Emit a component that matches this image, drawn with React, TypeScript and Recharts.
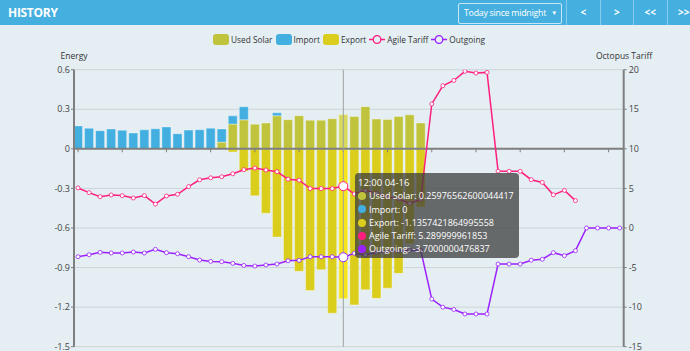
import React from 'react';
import {
  ComposedChart,
  Bar,
  Line,
  XAxis,
  YAxis,
  CartesianGrid,
  Tooltip,
  ReferenceLine,
  Cell,
} from 'recharts';

// half-hour slots since midnight (0 = 00:00)
const slots = Array.from({ length: 50 }, (_, i) => i);
const dateLabel = '04-16';

const usedSolar = [
  0, 0, 0, 0, 0, 0, 0, 0, 0, 0, 0, 0, 0, 0.051, 0.188, 0.22, 0.187, 0.196, 0.251, 0.221,
  0.251, 0.217, 0.217, 0.228, 0.25976562600044417, 0.245, 0.32, 0.226, 0.222, 0.246, 0.258, 0.196,
];
const importKwh = [
  0.174, 0.156, 0.138, 0.151, 0.141, 0.12, 0.144, 0.152, 0.166, 0.115, 0.142, 0.145, 0.157, 0.1,
  0.062, 0.099, 0, 0, 0.022, 0, 0, 0, 0, 0, 0, 0, 0, 0, 0, 0, 0, 0,
];
const exportKwh = [
  0, 0, 0, 0, 0, 0, 0, 0, 0, 0, 0, 0, 0, 0, -0.023, -0.17, -0.356, -0.488, -0.669, -0.848, -0.928,
  -1.074, -0.917, -1.246, -1.1357421864995558, -1.183, -1.069, -1.133, -1.056, -0.944, -0.72, -0.44,
];
const agileTariff = [
  5.06, 4.47, 3.96, 4.17, 4.09, 3.79, 4.09, 3.02, 4.04, 4.26, 5.23, 6.09, 6.34, 6.47, 6.85, 7.36,
  7.57, 7.32, 7.11, 6.17, 6.04, 4.98, 4.98, 4.98, 5.289999961853, 4.3, 4.74, 4.4, 3.9, 3.7, 3.1, 3.6,
  15.67, 17.97, 18.64, 19.79, 19.58, 19.66, 7.18, 7.16, 7.16, 6.1, 5.76, 4.19, 4.75, 3.46,
];
const outgoing = [
  -3.63, -3.38, -3.08, -3.16, -3.16, -3.04, -3.16, -2.7, -3.12, -3.25, -3.63, -4.05, -4.22, -4.26,
  -4.47, -4.73, -4.81, -4.68, -4.56, -4.14, -4.09, -3.63, -3.63, -3.63, -3.7000000476837, -3.2,
  -3.4, -3.08, -2.95, -2.9, -2.8, -2.8, -8.98, -10.0, -10.3, -10.87, -10.87, -10.87, -4.56, -4.56,
  -4.56, -4.07, -3.95, -3.12, -3.5, -2.87, 0, 0, 0, 0,
];

const energyTicks = [0.6, 0.3, 0, -0.3, -0.6, -0.9, -1.2, -1.5];
const tariffTicks = [20, 15, 10, 5, 0, -5, -10, -15];
const axisTickSlots = [0, 4, 8, 12, 16, 20, 24, 28, 32, 36, 40, 44, 48];
const activeSlot = 24;

const C = {
  solar: '#c0c43c',
  solarHi: '#d6d95c',
  import: '#42afe0',
  export: '#dacd1b',
  exportHi: '#f5e51a',
  agile: '#ff1f7f',
  outgoing: '#9b22ff',
  axis: '#7f7f7f',
  grid: '#cdd4d8',
  text: '#444',
};

const data = slots.map((s) => ({
  slot: s,
  usedSolar: usedSolar[s] ?? 0,
  importKwh: importKwh[s] ?? 0,
  exportKwh: exportKwh[s] ?? 0,
  agile: agileTariff[s] ?? null,
  outgoing: outgoing[s] ?? null,
}));

function slotLabel(s: number) {
  const h = Math.floor(s / 2) % 24;
  return `${String(h).padStart(2, '0')}:${s % 2 ? '30' : '00'} ${dateLabel}`;
}

function HistoryTooltip({ active, payload, label }: any) {
  if (!active || !payload || !payload.length) return null;
  return (
    <div
      style={{
        background: 'rgba(60,60,60,0.75)',
        borderRadius: 4,
        padding: '3px 5px 2px 3px',
        color: '#fff',
        fontSize: 9,
        lineHeight: '13.3px',
        whiteSpace: 'nowrap',
        fontFamily: '"Open Sans", sans-serif',
      }}
    >
      <div style={{ fontSize: 9.5 }}>{slotLabel(label)}</div>
      {payload.map((p: any) => (
        <div key={p.dataKey} style={{ display: 'flex', alignItems: 'center' }}>
          <span
            style={{
              display: 'inline-block',
              width: 8,
              height: 8,
              borderRadius: '50%',
              background: p.color,
              marginRight: 3,
            }}
          />
          {p.name}: {String(p.value)}
        </div>
      ))}
    </div>
  );
}

function LegendSwatch({ color }: { color: string }) {
  return (
    <span
      style={{ display: 'inline-block', width: 16, height: 11, borderRadius: 3, background: color, marginRight: 2 }}
    />
  );
}

function LegendLine({ color }: { color: string }) {
  return (
    <svg width={16} height={11} style={{ marginRight: 2 }}>
      <line x1={0} y1={5.5} x2={16} y2={5.5} stroke={color} strokeWidth={1.5} />
      <circle cx={8} cy={5.5} r={3.8} fill="#e4eef3" stroke={color} strokeWidth={1.3} />
    </svg>
  );
}

const navButtons = ['<', '>', '<<', '>>'];

export default function App() {
  return (
    <div
      style={{
        position: 'absolute',
        left: 0,
        top: 0,
        width: 690,
        height: 351,
        overflow: 'hidden',
        background: '#e4eef3',
        fontFamily: '"Open Sans", sans-serif',
      }}
    >
      <div style={{ position: 'absolute', left: 0, top: 0 }}>
        <ComposedChart
          width={690}
          height={351}
          data={data}
          stackOffset="sign"
          margin={{ top: 69.7, right: 0, bottom: 4.3, left: 0 }}
        >
          <CartesianGrid yAxisId="left" vertical={false} stroke={C.grid} />
          <XAxis dataKey="slot" type="category" hide padding={{ left: -1.5, right: -1.5 }} />
          <YAxis
            yAxisId="left"
            domain={[-1.5, 0.6]}
            ticks={energyTicks}
            interval={0}
            width={74}
            allowDataOverflow
            axisLine={{ stroke: C.axis, strokeWidth: 2 }}
            tickLine={{ stroke: C.axis }}
            tickSize={3}
            tickMargin={1}
            tick={{ fontSize: 9, fill: C.text }}
          />
          <YAxis
            yAxisId="right"
            orientation="right"
            domain={[-15, 20]}
            ticks={tariffTicks}
            interval={0}
            width={66.3}
            allowDataOverflow
            axisLine={{ stroke: C.axis, strokeWidth: 2 }}
            tickLine={{ stroke: C.axis }}
            tickSize={3}
            tickMargin={2}
            tick={{ fontSize: 9, fill: C.text }}
          />
          <Bar
            yAxisId="left"
            dataKey="usedSolar"
            name="Used Solar"
            stackId="e"
            fill={C.solar}
            barSize={9}
            stroke="rgba(255,255,255,0.45)"
            strokeWidth={0.8}
            isAnimationActive={false}
          >
            {data.map((d) => (
              <Cell key={d.slot} fill={d.slot === activeSlot ? C.solarHi : C.solar} />
            ))}
          </Bar>
          <Bar
            yAxisId="left"
            dataKey="importKwh"
            name="Import"
            stackId="e"
            fill={C.import}
            barSize={9}
            stroke="rgba(255,255,255,0.45)"
            strokeWidth={0.8}
            isAnimationActive={false}
          />
          <Bar
            yAxisId="left"
            dataKey="exportKwh"
            name="Export"
            stackId="e"
            fill={C.export}
            barSize={9}
            stroke="rgba(255,255,255,0.45)"
            strokeWidth={0.8}
            isAnimationActive={false}
          >
            {data.map((d) => (
              <Cell key={d.slot} fill={d.slot === activeSlot ? C.exportHi : C.export} />
            ))}
          </Bar>
          <ReferenceLine yAxisId="left" y={0} stroke={C.axis} strokeWidth={2} />
          {axisTickSlots.map((s) => (
            <ReferenceLine
              key={s}
              yAxisId="left"
              segment={[
                { x: s, y: 0 },
                { x: s, y: -0.026 },
              ]}
              stroke={C.axis}
            />
          ))}
          <Line
            yAxisId="right"
            dataKey="agile"
            name="Agile Tariff"
            type="linear"
            stroke={C.agile}
            strokeWidth={1.5}
            dot={{ r: 2, fill: '#fff', stroke: C.agile, strokeWidth: 0.8 }}
            activeDot={{ r: 4.5, fill: '#fff', stroke: C.agile, strokeWidth: 1 }}
            isAnimationActive={false}
          />
          <Line
            yAxisId="right"
            dataKey="outgoing"
            name="Outgoing"
            type="linear"
            stroke={C.outgoing}
            strokeWidth={1.5}
            dot={{ r: 2, fill: '#fff', stroke: C.outgoing, strokeWidth: 0.8 }}
            activeDot={{ r: 4.5, fill: '#fff', stroke: C.outgoing, strokeWidth: 1 }}
            isAnimationActive={false}
          />
          <Tooltip
            defaultIndex={activeSlot}
            active
            position={{ x: 355, y: 173 }}
            cursor={{ stroke: '#a0a0a0', strokeWidth: 1 }}
            isAnimationActive={false}
            wrapperStyle={{ outline: 'none' }}
            content={<HistoryTooltip />}
          />
        </ComposedChart>
      </div>

      {/* header bar */}
      <div style={{ position: 'absolute', left: 0, top: 0, width: 690, height: 25, background: '#45afe0', color: '#fff' }}>
        <span style={{ position: 'absolute', left: 8, top: 4, fontWeight: 700, fontSize: 12, letterSpacing: -0.3 }}>
          HISTORY
        </span>
        <div
          style={{
            position: 'absolute',
            left: 458,
            top: 3,
            width: 104,
            height: 21,
            boxSizing: 'border-box',
            border: '1px solid rgba(255,255,255,0.7)',
            borderRadius: 2,
            fontSize: 8.8,
            letterSpacing: -0.25,
            lineHeight: '19px',
            paddingLeft: 5,
            overflow: 'hidden',
            whiteSpace: 'nowrap',
          }}
        >
          <span style={{ display: 'inline-block', width: 86, overflow: 'hidden', verticalAlign: 'top' }}>
            Today since midnight
          </span>
          <span style={{ position: 'absolute', right: 4, top: 0, fontSize: 6 }}>▼</span>
        </div>
        {navButtons.map((b, i) => (
          <div
            key={b}
            style={{
              position: 'absolute',
              left: 566 + i * 33.5,
              top: 0,
              width: 33.5,
              height: 25,
              borderLeft: '1px solid rgba(255,255,255,0.35)',
              boxSizing: 'border-box',
              textAlign: 'center',
              lineHeight: '25px',
              fontSize: 10,
              fontWeight: 700,
            }}
          >
            {b}
          </div>
        ))}
      </div>

      {/* legend */}
      <div
        style={{
          position: 'absolute',
          left: 8,
          top: 32,
          width: 682,
          height: 14,
          display: 'flex',
          justifyContent: 'center',
          alignItems: 'center',
          fontSize: 8.3,
          color: '#333',
          gap: 3,
        }}
      >
        <span style={{ display: 'flex', alignItems: 'center' }}>
          <LegendSwatch color={C.solar} />
          Used Solar
        </span>
        <span style={{ display: 'flex', alignItems: 'center' }}>
          <LegendSwatch color={C.import} />
          Import
        </span>
        <span style={{ display: 'flex', alignItems: 'center' }}>
          <LegendSwatch color={C.export} />
          Export
        </span>
        <span style={{ display: 'flex', alignItems: 'center' }}>
          <LegendLine color={C.agile} />
          Agile Tariff
        </span>
        <span style={{ display: 'flex', alignItems: 'center' }}>
          <LegendLine color={C.outgoing} />
          Outgoing
        </span>
      </div>

      {/* axis names */}
      <div style={{ position: 'absolute', left: 44, width: 60, top: 50, textAlign: 'center', fontSize: 8.5, color: '#333' }}>
        Energy
      </div>
      <div style={{ position: 'absolute', left: 584, width: 80, top: 50, textAlign: 'center', fontSize: 8.5, color: '#333' }}>
        Octopus Tariff
      </div>
    </div>
  );
}
